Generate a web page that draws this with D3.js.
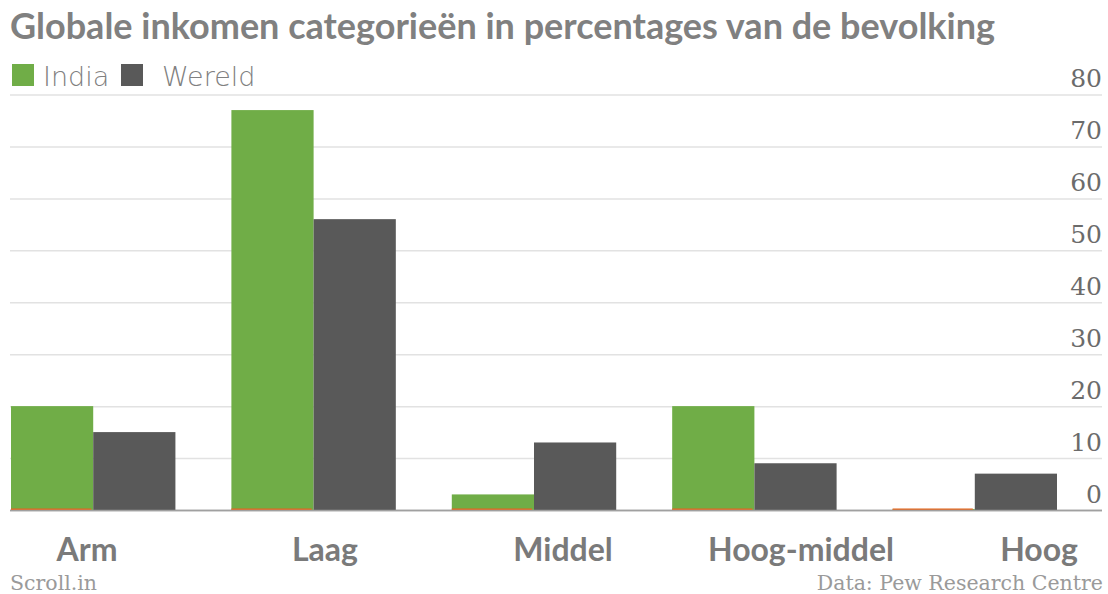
<!DOCTYPE html>
<html>
<head>
<meta charset="utf-8">
<script src="https://cdnjs.cloudflare.com/ajax/libs/d3/7.8.5/d3.min.js"></script>
<style>
  body{margin:0;background:#fff;}
  svg{display:block;}
  .axis text{font-family:"DejaVu Serif",serif;font-size:25px;fill:#6b6b6b;}
  .axis line{stroke:#e2e2e2;stroke-width:1.5;}
  .cat{font-family:"Lato","Open Sans",sans-serif;font-weight:bold;font-size:32px;fill:#7a7a7a;}
  .foot{font-family:"DejaVu Serif",serif;font-size:20.5px;fill:#9a9a9a;}
</style>
</head>
<body>
<script>
var width=1108,height=594;

var categories=["Arm","Laag","Middel","Hoog-middel","Hoog"];
var series=["India","Wereld"];
var india=[20,77,3,20,0.2];
var wereld=[15,56,13,9,7];
var yTicks=[0,10,20,30,40,50,60,70,80];
var colors={"India":"#70ad47","Wereld":"#595959"};

var svg=d3.select("body").append("svg")
    .attr("width",width)
    .attr("height",height);

var yScale=d3.scaleLinear().domain([0,80]).range([510,94.5]);
var x0=d3.scaleBand().domain(categories).range([11,1057]).paddingInner(0.254).paddingOuter(0).align(0);
var x1=d3.scaleBand().domain(series).range([0,x0.bandwidth()]);
var xLabel=d3.scalePoint().domain(categories).range([87,1039]);

// title
svg.append("text")
   .attr("x",10).attr("y",39)
   .style("font-family","Lato, 'Open Sans', sans-serif")
   .style("font-weight","bold")
   .style("font-size","36px")
   .style("fill","#808080")
   .text("Globale inkomen categorieën in percentages van de bevolking");

// legend
var legend=[{name:"India",x:12,tx:43},{name:"Wereld",x:121,tx:162}];
legend.forEach(function(d){
   svg.append("rect").attr("x",d.x).attr("y",64).attr("width",22).attr("height",22)
      .attr("fill",colors[d.name]);
   svg.append("text").attr("x",d.tx).attr("y",86)
      .style("font-family","'DejaVu Sans', sans-serif")
      .style("font-weight","200")
      .style("font-size","27px")
      .style("fill","#808080")
      .text(d.name);
});

// gridlines + labels
var yAxis=d3.axisLeft(yScale).tickValues(yTicks).tickSize(1092).tickFormat(d3.format("d"));
var ga=svg.append("g").attr("class","axis")
   .attr("transform","translate(1102,0)")
   .call(yAxis);
ga.select(".domain").remove();
ga.selectAll("text").attr("x",0).attr("dy",0).attr("y",-8).attr("text-anchor","end");
ga.selectAll(".tick").filter(function(d){return d===0;}).select("line").style("stroke","#a0a0a0");

// bars
var rows=categories.map(function(c,i){return {cat:c,values:[{s:"India",v:india[i]},{s:"Wereld",v:wereld[i]}]};});
var groups=svg.append("g").selectAll("g")
   .data(rows).enter().append("g")
   .attr("transform",function(d){return "translate("+x0(d.cat)+",0)";});
groups.selectAll("rect")
   .data(function(d){return d.values;})
   .enter().append("rect")
   .attr("x",function(d){return x1(d.s);})
   .attr("width",x1.bandwidth())
   .attr("y",function(d){return yScale(d.v);})
   .attr("height",function(d){return yScale(0)-yScale(d.v);})
   .attr("fill",function(d){return colors[d.s];});
// thin orange edge under India bars
groups.append("rect")
   .attr("x",x1("India"))
   .attr("width",x1.bandwidth()-2)
   .attr("y",yScale(0)-1.5)
   .attr("height",1.5)
   .attr("fill","#e8641b");

// baseline
svg.append("line").attr("x1",10).attr("x2",1102)
   .attr("y1",yScale(0)+0.5).attr("y2",yScale(0)+0.5)
   .attr("stroke","#a0a0a0").attr("stroke-width",1.5);

// category labels
svg.append("g").selectAll("text")
   .data(categories).enter().append("text")
   .attr("class","cat")
   .attr("x",function(d){return xLabel(d);})
   .attr("y",561)
   .attr("text-anchor","middle")
   .text(function(d){return d;});

// footer
svg.append("text").attr("class","foot").attr("x",10).attr("y",590).text("Scroll.in");
svg.append("text").attr("class","foot").attr("x",1103).attr("y",590).attr("text-anchor","end").text("Data: Pew Research Centre");
</script>
</body>
</html>
